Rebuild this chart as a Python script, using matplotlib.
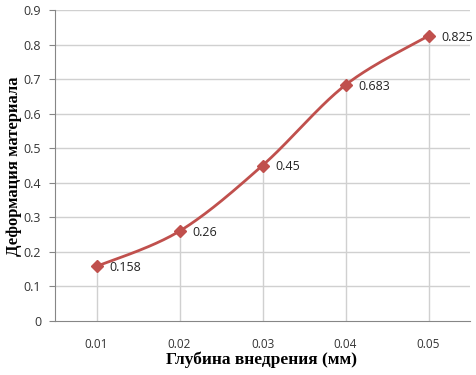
import numpy as np
import matplotlib
matplotlib.use("Agg")
import matplotlib.pyplot as plt

depth_labels = ["0.01", "0.02", "0.03", "0.04", "0.05"]
strain = [0.158, 0.26, 0.45, 0.683, 0.825]
y_ticks = [0, 0.1, 0.2, 0.3, 0.4, 0.5, 0.6, 0.7, 0.8, 0.9]
y_tick_labels = ["0", "0.1", "0.2", "0.3", "0.4", "0.5", "0.6", "0.7", "0.8", "0.9"]

x_title = "Глубина внедрения (мм)"
y_title = "Деформация материала"

red = "#C0504D"
grid_col = "#D0D0D0"


def smooth_curve(xs, ys, sx, sy, n=40):
	# Excel-like smoothed line: cubic Bezier with Catmull-Rom control points,
	# worked out in (roughly) screen proportions
	px = np.array(xs, float) * sx
	py = np.array(ys, float) * sy
	outx, outy = [], []
	m = len(px)
	for i in range(m - 1):
		p0 = np.array([px[max(i - 1, 0)], py[max(i - 1, 0)]])
		p1 = np.array([px[i], py[i]])
		p2 = np.array([px[i + 1], py[i + 1]])
		p3 = np.array([px[min(i + 2, m - 1)], py[min(i + 2, m - 1)]])
		c1 = p1 + (p2 - p0) / 6.0
		c2 = p2 - (p3 - p1) / 6.0
		t = np.linspace(0, 1, n)[:, None]
		b = (1 - t) ** 3 * p1 + 3 * (1 - t) ** 2 * t * c1 + 3 * (1 - t) * t ** 2 * c2 + t ** 3 * p2
		outx.extend(b[:, 0]); outy.extend(b[:, 1])
	return np.array(outx) / sx, np.array(outy) / sy


fig = plt.figure(figsize=(4.77, 3.75), dpi=100)
ax = fig.add_axes([55 / 477, 1 - 321 / 375, (470 - 55) / 477, (321 - 10) / 375])

xpos = np.arange(1, len(strain) + 1)
ax.set_xlim(0.5, len(strain) + 0.5)
ax.set_ylim(0, 0.9)

for yt in y_ticks[1:]:
	ax.axhline(yt, color=grid_col, lw=1, zorder=1)
# drop lines
ax.vlines(xpos, 0, strain, color=grid_col, lw=1, zorder=1)

cx, cy = smooth_curve(xpos, strain, 83.0, 311 / 0.9)
ax.plot(cx, cy, color=red, lw=2, zorder=3, solid_capstyle="round")
ax.plot(xpos, strain, linestyle="none", marker="D", ms=6, color=red, zorder=4)

for x, v in zip(xpos, strain):
	ax.annotate(f"{v:g}", (x, v), xytext=(9, -1), textcoords="offset points",
		ha="left", va="center", fontsize=9, family="Open Sans", color="#222222")

ax.set_xticks(xpos)
ax.set_xticklabels(depth_labels, family="Open Sans", fontsize=8.5, color="#333333")
ax.set_yticks(y_ticks)
ax.set_yticklabels(y_tick_labels, family="Open Sans", fontsize=9, color="#333333")
ax.tick_params(axis="x", length=0, pad=12)
ax.tick_params(axis="y", length=4, color="#868686", pad=6)

for s in ["top", "right"]:
	ax.spines[s].set_visible(False)
ax.spines["left"].set_color("#868686")
ax.spines["bottom"].set_color("#868686")

# axis titles placed by hand so they stay inside the small canvas
fig.text(262 / 477, 1 - 360 / 375, x_title, family="Liberation Serif", fontweight="bold",
	fontsize=12.5, ha="center", va="center")
fig.text(14 / 477, 1 - 166 / 375, y_title, family="Liberation Serif", fontweight="bold",
	fontsize=12, ha="center", va="center", rotation=90)

fig.savefig("out.png", dpi=100, facecolor="white")
